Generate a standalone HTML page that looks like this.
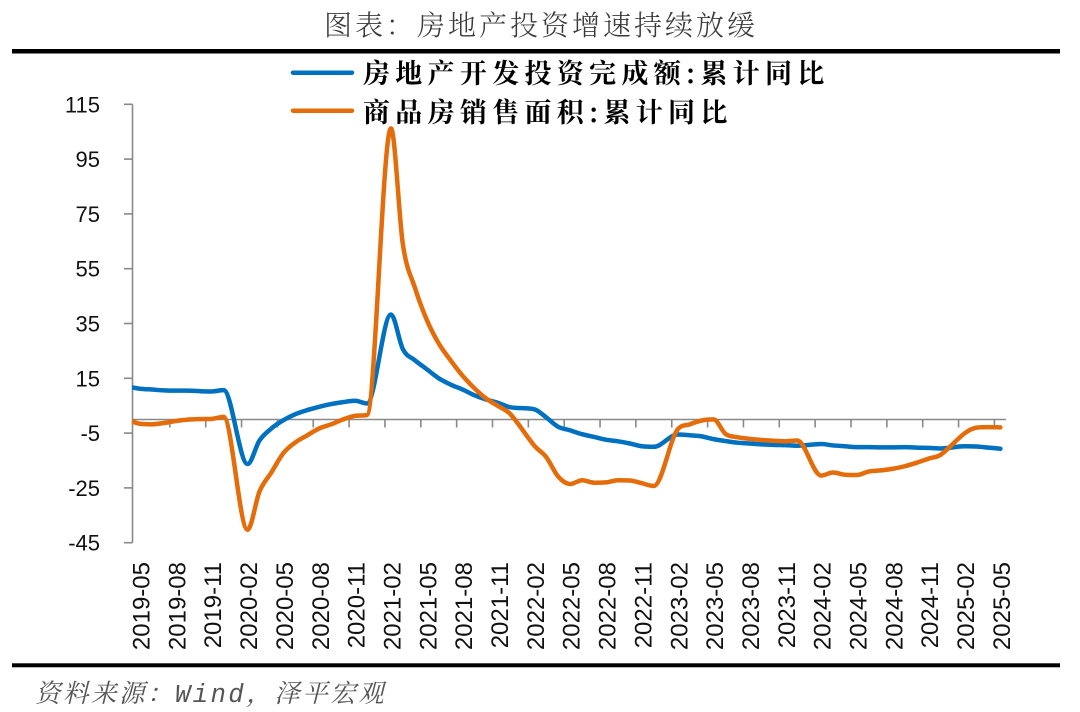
<!DOCTYPE html>
<html>
<head>
<meta charset="utf-8">
<style>
html,body{margin:0;padding:0;background:#fff;}
svg{display:block;}
</style>
</head>
<body>
<svg id="chart" width="1080" height="712" viewBox="0 0 1080 712" xmlns="http://www.w3.org/2000/svg">
<rect width="1080" height="712" fill="#fff"/>
<defs>
  <clipPath id="plot"><rect x="132" y="0" width="874" height="712"/></clipPath>
</defs>

<!-- Title -->
<text x="541" y="35" text-anchor="middle" font-family="'Noto Serif CJK SC','Noto Sans CJK SC',serif" font-size="28" font-weight="300" letter-spacing="3" fill="#3a3a3a">图表：房地产投资增速持续放缓</text>
<rect x="12" y="49" width="1048" height="4.5" fill="#000"/>

<!-- Legend -->
<line x1="293" y1="72.7" x2="352" y2="72.7" stroke="#0070C0" stroke-width="4.5" stroke-linecap="round"/>
<line x1="293" y1="110.7" x2="352" y2="110.7" stroke="#E46C0A" stroke-width="4.5" stroke-linecap="round"/>
<text x="363" y="83" font-family="'Noto Serif CJK SC','Noto Sans CJK SC',serif" font-size="27" font-weight="700" letter-spacing="5.3" fill="#000">房地产开发投资完成额:累计同比</text>
<text x="363" y="122" font-family="'Noto Serif CJK SC','Noto Sans CJK SC',serif" font-size="27" font-weight="700" letter-spacing="5.3" fill="#000">商品房销售面积:累计同比</text>

<g id="axes"></g>
<g id="series" clip-path="url(#plot)"></g>

<!-- bottom rule and source -->
<rect x="12" y="663.3" width="1048" height="4" fill="#000"/>
<text x="35" y="702" font-family="'Liberation Mono','Noto Serif CJK SC',monospace" font-style="italic" font-size="25.5" letter-spacing="2.5" fill="#555">资料来源：Wind，泽平宏观</text>
</svg>

<script>
(function(){
  var NS="http://www.w3.org/2000/svg";
  var axes=document.getElementById("axes");
  var series=document.getElementById("series");
  function el(tag,attrs,parent,txt){
    var e=document.createElementNS(NS,tag);
    for(var k in attrs) e.setAttribute(k,attrs[k]);
    if(txt!==undefined) e.textContent=txt;
    parent.appendChild(e); return e;
  }
  var X0=140, DX=11.95;
  function X(i){return X0+i*DX;}
  function Y(v){return 419.4 - v*2.74;}
  var axisCol="#898989";

  // y axis
  el("line",{x1:132.5,y1:104.3,x2:132.5,y2:542.7,stroke:axisCol,"stroke-width":1.6},axes);
  for(var v=115; v>=-45; v-=20){
    var y=Y(v);
    el("line",{x1:124,y1:y,x2:132.5,y2:y,stroke:axisCol,"stroke-width":1.6},axes);
    el("text",{x:100,y:y+8,"text-anchor":"end","font-family":"'Liberation Sans',sans-serif","font-size":22,fill:"#111"},axes,String(v));
  }
  // x axis
  el("line",{x1:132,y1:419.5,x2:1006,y2:419.5,stroke:axisCol,"stroke-width":1.6},axes);
  for(var k=1;k<=24;k++){
    var tx=134+k*35.85;
    el("line",{x1:tx,y1:419.5,x2:tx,y2:427.5,stroke:axisCol,"stroke-width":1.6},axes);
  }
  for(var k=0;k<=24;k++){
    var m=4+3*k;
    var yr=2019+Math.floor(m/12), mo=(m%12)+1;
    var lab=yr+"-"+(mo<10?"0":"")+mo;
    var c=X(3*k);
    el("text",{transform:"translate("+(c+9.5)+",562) rotate(-90)","text-anchor":"end","font-family":"'Liberation Sans',sans-serif","font-size":24,fill:"#111"},axes,lab);
  }

  var blue=[[-1,11.9],[0,11.2],[1,10.9],[2,10.6],[3,10.5],[4,10.5],[5,10.3],[6,10.2],[7,10.7],
  [9,-16.3],[10,-7.7],[11,-3.3],[12,-0.3],[13,1.9],[14,3.4],[15,4.6],[16,5.6],[17,6.3],[18,6.8],[19,5.8],
  [21,38.3],[22,25.6],[23,21.6],[24,18.3],[25,15.0],[26,12.7],[27,10.9],[28,8.8],[29,7.2],[30,6.0],[31,4.4],
  [33,3.7],[34,0.7],[35,-2.7],[36,-4.0],[37,-5.4],[38,-6.4],[39,-7.4],[40,-8.0],[41,-8.8],[42,-9.8],[43,-10.0],
  [45,-5.5],[46,-5.8],[47,-6.2],[48,-7.2],[49,-7.9],[50,-8.5],[51,-8.8],[52,-9.1],[53,-9.3],[54,-9.4],[55,-9.6],
  [57,-9.0],[58,-9.5],[59,-9.8],[60,-10.1],[61,-10.1],[62,-10.2],[63,-10.2],[64,-10.1],[65,-10.3],[66,-10.4],[67,-10.6],
  [69,-9.8],[70,-9.9],[71,-10.3],[72,-10.7]];
  var orange=[[-1,-0.3],[0,-1.6],[1,-1.8],[2,-1.3],[3,-0.6],[4,-0.1],[5,0.1],[6,0.2],[7,0.9],
  [9,-40.3],[10,-26.3],[11,-19.3],[12,-12.3],[13,-8.4],[14,-5.8],[15,-3.3],[16,-1.8],[17,0.0],[18,1.3],[19,1.6],
  [21,106.2],[22,63.8],[23,48.1],[24,36.3],[25,27.7],[26,21.5],[27,15.9],[28,11.3],[29,7.5],[30,4.8],[31,1.9],
  [33,-9.6],[34,-13.8],[35,-20.9],[36,-23.6],[37,-22.2],[38,-23.1],[39,-23.0],[40,-22.2],[41,-22.3],[42,-23.3],[43,-24.3],
  [45,-3.6],[46,-1.8],[47,-0.4],[48,0.0],[49,-5.3],[50,-6.5],[51,-7.1],[52,-7.5],[53,-7.8],[54,-8.0],[55,-7.7],
  [57,-20.5],[58,-19.4],[59,-20.2],[60,-20.3],[61,-19.0],[62,-18.6],[63,-18.0],[64,-17.1],[65,-15.8],[66,-14.3],[67,-12.9],
  [69,-5.1],[70,-3.0],[71,-2.8],[72,-2.9]];

  // monotone-limited cubic Hermite (no overshoot)
  function smooth(data){
    var xs=data.map(function(d){return X(d[0]);});
    var ys=data.map(function(d){return Y(d[1]);});
    var n=xs.length, d=[], mt=[];
    for(var i=0;i<n-1;i++) d.push((ys[i+1]-ys[i])/(xs[i+1]-xs[i]));
    mt[0]=d[0]; mt[n-1]=d[n-2];
    for(var i=1;i<n-1;i++){
      if(d[i-1]*d[i]<=0){ mt[i]=0; continue; }
      var m=(ys[i+1]-ys[i-1])/(xs[i+1]-xs[i-1]);
      var lim=3*Math.min(Math.abs(d[i-1]),Math.abs(d[i]));
      if(Math.abs(m)>lim) m=(m>0?1:-1)*lim;
      mt[i]=m;
    }
    var s="M"+xs[0].toFixed(2)+","+ys[0].toFixed(2);
    for(var i=0;i<n-1;i++){
      var h=xs[i+1]-xs[i];
      var c1x=xs[i]+h/3, c1y=ys[i]+mt[i]*h/3;
      var c2x=xs[i+1]-h/3, c2y=ys[i+1]-mt[i+1]*h/3;
      s+=" C"+c1x.toFixed(2)+","+c1y.toFixed(2)+" "+c2x.toFixed(2)+","+c2y.toFixed(2)+" "+xs[i+1].toFixed(2)+","+ys[i+1].toFixed(2);
    }
    return s;
  }
  el("path",{d:smooth(blue),fill:"none",stroke:"#0070C0","stroke-width":4.5,"stroke-linejoin":"round","stroke-linecap":"round"},series);
  el("path",{d:smooth(orange),fill:"none",stroke:"#E46C0A","stroke-width":4.5,"stroke-linejoin":"round","stroke-linecap":"round"},series);
})();
</script>
</body>
</html>
